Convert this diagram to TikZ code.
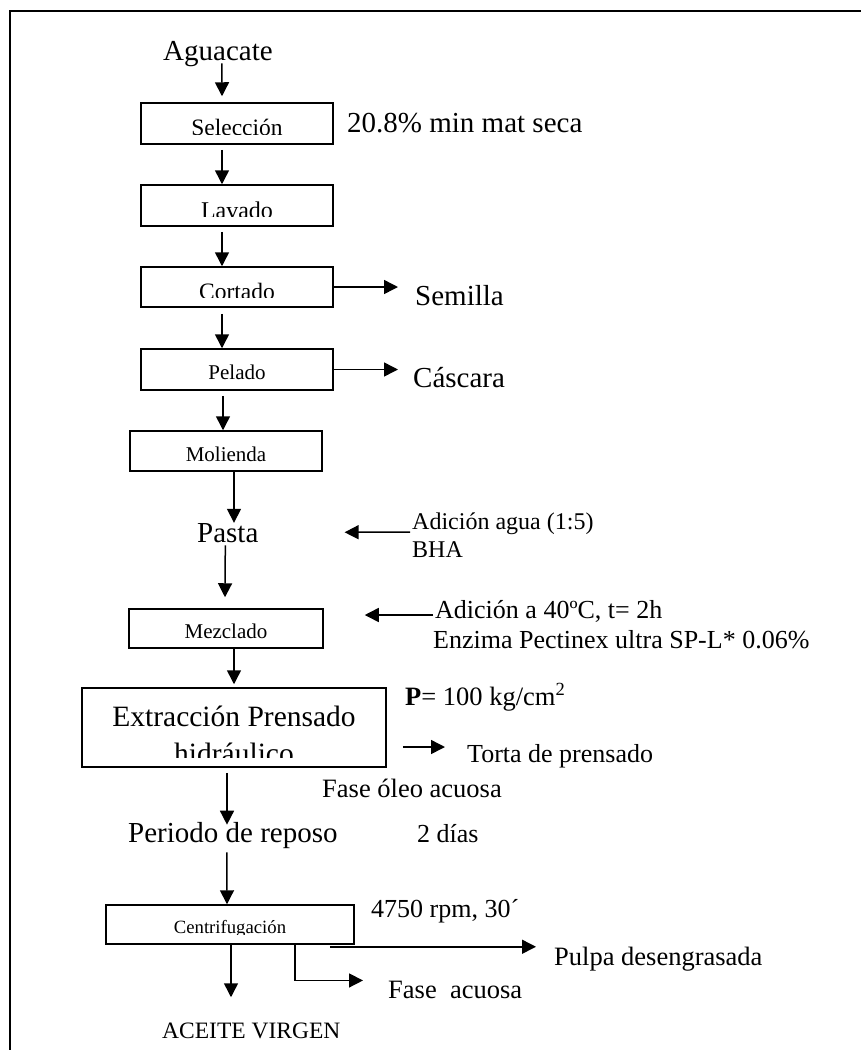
\documentclass[tikz,border=0pt]{standalone}
\usepackage{fontspec}
\setmainfont{Liberation Serif}
\usetikzlibrary{arrows.meta}

\tikzset{
  stepbox/.style={draw, line width=1.5pt, inner sep=0pt},
  flow/.style={line width=1.5pt, -{Triangle[length=14pt, width=14pt]}},
  txt/.style={inner sep=0pt, anchor=base west, font=\fontsize{#1}{#1}\selectfont},
  txt/.default=26,
}
% label of a step box, cut off near the bottom edge
\newcommand\steplabel[4]{%
  \begin{scope}
    \clip (#1.north west) rectangle ([yshift=10pt]#1.south east);
    \node[anchor=south, inner sep=0pt, align=center, font=\fontsize{#3}{37}\selectfont]
      (#1-text) at ([yshift=#4]#1.south) {#2};
  \end{scope}}

\begin{document}
\begin{tikzpicture}[x=1pt, y=-1pt]
    \useasboundingbox (0,0) rectangle (861,1050);
    \draw[line width=2pt] (10,1050) -- (10,11) -- (861,11);

    % process steps
    \node[stepbox, minimum width=192pt, minimum height=41pt] (sel) at (237,123.5) {};
    \node[stepbox, minimum width=192pt, minimum height=41pt] (lav) at (237,205.5) {};
    \node[stepbox, minimum width=192pt, minimum height=40pt] (cor) at (237,287) {};
    \node[stepbox, minimum width=192pt, minimum height=41pt] (pel) at (237,369.5) {};
    \node[stepbox, minimum width=192pt, minimum height=40pt] (mol) at (226,451) {};
    \node[stepbox, minimum width=194pt, minimum height=39pt] (mez) at (226,628.5) {};
    \node[stepbox, minimum width=304pt, minimum height=79pt] (ext) at (234,727.5) {};
    \node[stepbox, minimum width=248pt, minimum height=39pt] (cen) at (230,924.5) {};
    \steplabel{sel}{Selección}{23.5}{9pt}
    \steplabel{lav}{Lavado}{24}{8pt}
    \steplabel{cor}{Cortado}{23.5}{8pt}
    \steplabel{pel}{Pelado}{21}{11pt}
    \steplabel{mol}{Molienda}{21}{10pt}
    \steplabel{mez}{Mezclado}{21}{10pt}
    \steplabel{ext}{Extracción Prensado\\hidráulico}{29.5}{4pt}
    \steplabel{cen}{Centrifugación}{18.7}{7pt}

    % texts
    \node[txt=29] (agu) at (163,60) {Aguacate};
    \node[txt=29] (seca) at (347,132) {20.8\% min mat seca};
    \node[txt=29] (sem) at (415,305) {Semilla};
    \node[txt=29] (cas) at (413,387) {Cáscara};
    \node[txt=29] (pas) at (197,542) {Pasta};
    \node[txt=24] (agua) at (412,529) {Adición agua (1:5)};
    \node[txt=24] (bha) at (412,557) {BHA};
    \node[txt] (temp) at (435,618) {Adición a 40ºC, t= 2h};
    \node[txt] (enz) at (433,648) {Enzima Pectinex ultra SP-L* 0.06\%};
    \node[txt=26.5] (pres) at (405,705) {\textbf{P}= 100 kg/cm\textsuperscript{2}};
    \node[txt] (torta) at (467,762) {Torta de prensado};
    \node[txt=26.5] (oleo) at (322,797) {Fase óleo acuosa};
    \node[txt=29] (rep) at (128,842) {Periodo de reposo};
    \node[txt] (dias) at (417,842) {2 días};
    \node[txt] (rpm) at (371,917) {4750 rpm, 30´};
    \node[txt=26.5] (pulpa) at (554,965) {Pulpa desengrasada};
    \node[txt=26.5] (acu) at (388,998) {Fase\ \ acuosa};
    \node[txt=23.5] (aceite) at (162,1038) {ACEITE VIRGEN};

    % flow
    \draw[flow] ([xshift=4pt,yshift=3pt]agu.south) -- ([xshift=-15pt,yshift=6pt]sel.north);
    \draw[flow] ([xshift=-15pt,yshift=-5pt]sel.south) -- ([xshift=-15pt]lav.north);
    \draw[flow] ([xshift=-15pt,yshift=-5pt]lav.south) -- ([xshift=-15pt]cor.north);
    \draw[flow, shorten >=17pt] (cor.east) -- (cor.east -| sem.west);
    \draw[flow] ([xshift=-15pt,yshift=-6pt]cor.south) -- ([xshift=-15pt]pel.north);
    \draw[flow, shorten >=15pt] (pel.east) -- (pel.east -| cas.west);
    \draw[flow] ([xshift=-14pt,yshift=-5pt]pel.south) -- ([xshift=-3pt]mol.north);
    \draw[flow] ([xshift=8pt]mol.south) -- ([xshift=8pt]mol.south |- pas.north);
    \draw[flow] ([xshift=-2.5pt,yshift=-3pt]pas.south) -- ([xshift=-1pt,yshift=11pt]mez.north);
    \draw[flow, shorten >=86pt] ([xshift=-2pt,yshift=-3pt]agua.base west) -- (pas.east);
    \draw[flow, shorten >=41pt] ([xshift=-2pt,yshift=3pt]temp.base west) -- ([yshift=3pt]temp.base west -| mez.east);
    \draw[flow, shorten >=3pt] ([xshift=8pt]mez.south) -- ([xshift=8pt]mez.south |- ext.north);
    \draw[flow] ([xshift=16pt,yshift=-19.5pt]ext.east) -- ([xshift=-22pt,yshift=15pt]torta.base west);
    \draw[flow] ([xshift=-7pt,yshift=-5pt]ext.south) -- ([xshift=-7pt,yshift=-3pt]ext.south |- rep.north);
    \draw[flow] ([xshift=-6pt,yshift=-4pt]rep.south) -- ([xshift=-3pt]cen.north);
    \draw[flow] ([xshift=1pt]cen.south) -- ([xshift=1pt,yshift=25pt]cen.south |- aceite.north);
    \draw[flow, shorten >=18pt] ([xshift=-25pt,yshift=-2pt]cen.south east) -- ([yshift=-2pt]cen.south east -| pulpa.west);
    \draw[flow] ([xshift=65pt]cen.south) |- ([xshift=-25pt,yshift=9pt]acu.west);
\end{tikzpicture}
\end{document}
